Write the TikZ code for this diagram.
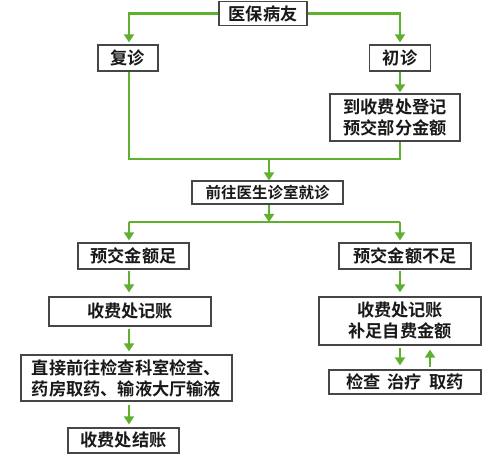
\documentclass[tikz,border=0pt]{standalone}
\usepackage{fontspec}
\setmainfont{Noto Sans CJK SC}[BoldFont={Noto Sans CJK SC Bold}]
\usetikzlibrary{arrows.meta}
\definecolor{lgreen}{RGB}{96,176,48}
\definecolor{bgray}{RGB}{70,70,70}
\tikzset{
  box/.style={draw=bgray, line width=1.3pt, fill=white, inner sep=0pt, align=center,
    font=\fontsize{17.2}{21}\selectfont\bfseries, text=black!90},
  conn/.style={draw=lgreen, line width=2.6pt},
  arr/.style={conn, -{Triangle[width=10pt,length=8pt]}},
}
\begin{document}
\begin{tikzpicture}[x=1pt,y=-1pt]
\useasboundingbox (0,0) rectangle (499,454);
\coordinate (L) at (129,0);
\coordinate (R) at (400,0);
\coordinate (Rup) at (430,0);
\coordinate (M) at (269,0);
\coordinate (j1) at (269,159);
\coordinate (j2) at (269,222);
% nodes
\node[box, minimum width=88pt, minimum height=24pt] (top) at (263,13.5) {医保病友};
\node[box, minimum width=60pt, minimum height=26pt] (fz) at (128,58) {复诊};
\node[box, minimum width=61pt, minimum height=26pt] (cz) at (400,58) {初诊};
\node[box, minimum width=130pt, minimum height=47pt] (dj) at (395,117.5) {到收费处登记\\预交部分金额};
\node[box, minimum width=151pt, minimum height=23pt, font=\fontsize{15.5}{18}\selectfont\bfseries] (qw) at (267.5,192.5) {前往医生诊室就诊};
\node[box, minimum width=111pt, minimum height=26pt] (zl) at (133.5,256) {预交金额足};
\node[box, minimum width=132pt, minimum height=26pt] (bz) at (405,256) {预交金额不足};
\node[box, minimum width=162pt, minimum height=29pt] (lj) at (130,311.5) {收费处记账};
\node[box, minimum width=162pt, minimum height=48pt] (rj) at (400,321) {收费处记账\\补足自费金额};
\node[box, minimum width=211pt, minimum height=46pt] (zj) at (126.5,378) {直接前往检查科室检查、\\药房取药、输液大厅输液};
\node[box, minimum width=111pt, minimum height=25pt] (js) at (123.5,440.5) {收费处结账};
\node[box, minimum width=152pt, minimum height=24pt] (jc) at (405,382) {检查\hspace{0.4em}治疗\hspace{0.4em}取药};
% connectors
\draw[arr] (top.west) -| ([yshift=2pt]fz.north -| L);
\draw[arr] (top.east) -| ([yshift=2pt]cz.north -| R);
\draw[arr] (cz.south -| R) -- ([yshift=1pt]dj.north -| R);
\draw[conn] (fz.south -| L) |- (j1) -| (dj.south -| R);
\draw[arr] (j1) -- (qw.north -| M);
\draw[arr] (qw.south -| M) -- (j2);
\draw[conn] (j2 -| L) -- (j2 -| R);
\draw[arr] (j2 -| L) -- ([yshift=2pt]zl.north -| L);
\draw[arr] (j2 -| R) -- ([yshift=2pt]bz.north -| R);
\draw[arr] ([yshift=-1pt]zl.south -| L) -- ([yshift=4pt]lj.north -| L);
\draw[arr] ([yshift=-1pt]bz.south -| R) -- ([yshift=4pt]rj.north -| R);
\draw[arr] ([yshift=-2pt]lj.south -| L) -- ([yshift=3pt]zj.north -| L);
\draw[arr] ([yshift=-3pt]zj.south -| L) -- ([yshift=3pt]js.north -| L);
\draw[arr] ([yshift=-2pt]rj.south -| R) -- ([yshift=4pt]jc.north -| R);
\draw[arr] ([yshift=2pt]jc.north -| Rup) -- ([yshift=-4pt]rj.south -| Rup);
\end{tikzpicture}
\end{document}
